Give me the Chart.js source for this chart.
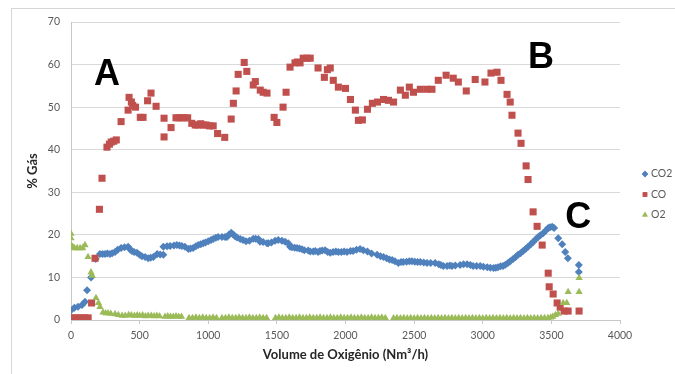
<!DOCTYPE html>
<html>
<head>
<meta charset="utf-8">
<script src="https://cdn.jsdelivr.net/npm/chart.js@4/dist/chart.umd.min.js"></script>
<style>
  html, body { margin: 0; padding: 0; background: #fff; overflow: hidden; }
  #wrap { position: relative; width: 675px; height: 374px; }
  #frame { position: absolute; left: 11px; top: 8px; width: 700px; height: 400px;
           border-left: 1px solid #d6d6d6; border-top: 1px solid #d6d6d6; }
  canvas { position: absolute; left: 0; top: 0; }
</style>
</head>
<body>
<div id="wrap">
  <div id="frame"></div>
  <canvas id="myChart" width="675" height="374"></canvas>
</div>
<script>
// data: [volume O2 (Nm3/h), % gas]
const co2 = [[0,2.3],[25,2.9],[51,3.1],[80,3.5],[102,4.3],[117,7],[146,10],[180,14.3],[211,15.5],[230,15.5],[248,15.5],[265,15.6],[284,15.5],[300,15.7],[321,16],[340,16.5],[365,16.9],[390,17.1],[416,17.2],[430,16.6],[443,16.2],[460,16],[481,15.8],[500,15.3],[517,15],[540,14.8],[562,14.5],[580,14.6],[600,14.8],[628,15.5],[650,15.4],[673,15.3],[673,17.2],[700,17.3],[722,17.4],[750,17.5],[771,17.6],[790,17.5],[808,17.4],[830,17.2],[855,16.7],[870,16.8],[890,16.9],[910,17.3],[927,17.6],[945,17.8],[963,18],[980,18.2],[1000,18.5],[1020,18.8],[1036,19],[1055,19.3],[1072,19.5],[1100,19.5],[1122,19.5],[1136,19.5],[1150,20],[1167,20.5],[1182,20.1],[1195,19.7],[1210,19.4],[1233,19],[1253,18.8],[1275,18.5],[1300,18.6],[1328,19.1],[1345,19.1],[1365,19],[1377,18.4],[1400,18.3],[1428,18],[1437,18],[1460,18.2],[1487,18.6],[1510,18.8],[1537,18.6],[1560,18.4],[1583,18],[1596,17.2],[1610,17.1],[1630,17],[1647,16.9],[1665,16.8],[1683,16.6],[1700,16.4],[1728,16.3],[1743,16.1],[1765,16.1],[1780,16.2],[1800,16],[1814,16.2],[1830,16.3],[1851,16.4],[1870,16],[1889,15.8],[1910,16],[1930,16.1],[1948,16],[1970,16],[1990,16.1],[2011,16],[2036,16.2],[2055,16.2],[2080,16.5],[2106,16.7],[2130,16.4],[2160,16.1],[2190,15.6],[2230,15.3],[2255,15],[2277,14.8],[2300,14.5],[2320,14.2],[2340,14.1],[2360,13.8],[2385,13.4],[2405,13.6],[2421,13.6],[2445,13.7],[2465,13.8],[2484,13.8],[2505,13.7],[2525,13.6],[2545,13.6],[2570,13.5],[2594,13.4],[2620,13.4],[2653,13.4],[2680,13.1],[2695,12.9],[2713,12.7],[2740,12.7],[2760,12.8],[2776,12.7],[2800,12.8],[2835,12.9],[2860,13.1],[2886,13.1],[2910,12.9],[2930,12.7],[2955,12.7],[2982,12.7],[3005,12.5],[3033,12.4],[3055,12.3],[3079,12.2],[3095,12.3],[3111,12.4],[3130,12.6],[3148,12.7],[3165,13],[3184,13.4],[3200,13.8],[3221,14.3],[3240,14.8],[3257,15.3],[3275,15.7],[3294,16.2],[3312,16.7],[3330,17.2],[3350,17.8],[3367,18.3],[3385,18.9],[3404,19.5],[3420,19.9],[3440,20.4],[3460,21],[3477,21.6],[3490,21.8],[3506,21.9],[3520,21.6],[3550,19.2],[3579,17.8],[3601,16],[3620,14.5],[3700,12.9],[3700,11.3]];

const co = [[0,0.5],[25,0.5],[50,0.5],[75,0.5],[100,0.5],[125,0.5],[150,4],[175,14.5],[207,26],[226,33.3],[262,40.6],[280,41.3],[293,41.8],[312,42],[330,42.3],[365,46.6],[416,49.3],[423,52.3],[440,51.2],[450,50.4],[470,50],[505,47.6],[525,47.6],[558,51.5],[583,53.3],[620,50.2],[678,47.4],[678,43],[729,45.2],[765,47.5],[785,47.5],[805,47.5],[825,47.5],[850,47.5],[880,46.2],[905,45.8],[925,45.8],[945,46.1],[965,45.8],[985,45.8],[1010,45.6],[1036,45.6],[1068,43.8],[1120,42.9],[1167,47.2],[1183,50.9],[1203,53.8],[1218,57.7],[1262,60.5],[1281,58.4],[1328,55.2],[1343,56],[1379,54],[1400,53.5],[1428,53.3],[1480,47.6],[1500,46.4],[1545,50],[1567,53.5],[1596,59.4],[1632,60.4],[1650,60.6],[1669,60.4],[1692,61.5],[1720,61.5],[1743,61.5],[1800,59.2],[1846,57],[1868,58.8],[1889,59.2],[1911,56.3],[1948,54.7],[2000,54.4],[2036,51.8],[2072,49.3],[2094,46.9],[2123,47],[2160,49.5],[2196,50.9],[2233,51.2],[2277,51.8],[2313,51.6],[2350,51.2],[2400,54],[2436,52.8],[2465,54.7],[2495,53.5],[2545,54.2],[2594,54.2],[2630,54.2],[2676,56.3],[2733,57.5],[2785,56.8],[2822,55.9],[2880,53.8],[2945,56.5],[3016,55.9],[3060,58],[3104,58.2],[3133,56.3],[3177,53],[3200,51.2],[3213,48.1],[3257,43.9],[3279,41.5],[3316,36.2],[3330,33],[3367,25.4],[3396,22],[3433,17.6],[3477,11],[3484,7.8],[3513,6.1],[3542,4],[3564,3],[3593,2.1],[3622,2.1],[3702,2.1]];

const o2 = [[0,20.3],[0,19.2],[0,17.6],[12,17.2],[25,16.9],[45,16.9],[66,16.9],[85,16.9],[102,17.6],[124,14.8],[146,11.2],[155,10.4],[182,5.2],[200,4],[211,3.1],[233,1.8],[252,1.6],[270,1.6],[290,1.5],[321,1.4],[345,1.2],[372,1],[395,1],[420,1.2],[440,1.1],[462,1],[482,1.1],[500,1],[522,1.1],[542,0.9],[562,1],[585,1],[605,0.9],[625,1],[645,0.9],[685,0.8],[705,0.9],[725,0.8],[745,0.8],[765,0.9],[785,0.8],[805,0.8],[860,0.5],[885,0.5],[910,0.6],[935,0.5],[960,0.6],[985,0.5],[1010,0.5],[1035,0.6],[1060,0.5],[1100,0.5],[1125,0.5],[1150,0.6],[1175,0.5],[1200,0.5],[1225,0.6],[1250,0.5],[1275,0.5],[1300,0.6],[1325,0.5],[1350,0.5],[1375,0.6],[1400,0.5],[1425,0.5],[1490,0.5],[1515,0.6],[1540,0.5],[1565,0.5],[1590,0.6],[1615,0.5],[1640,0.5],[1665,0.6],[1690,0.5],[1715,0.5],[1740,0.6],[1765,0.5],[1790,0.5],[1815,0.6],[1840,0.5],[1865,0.5],[1890,0.6],[1915,0.5],[1940,0.5],[1965,0.6],[1990,0.5],[2015,0.5],[2040,0.6],[2065,0.5],[2090,0.5],[2115,0.6],[2140,0.5],[2165,0.5],[2190,0.6],[2215,0.5],[2240,0.5],[2265,0.6],[2290,0.5],[2350,0.4],[2375,0.5],[2400,0.4],[2425,0.5],[2450,0.4],[2475,0.5],[2500,0.4],[2525,0.5],[2550,0.4],[2575,0.5],[2600,0.4],[2625,0.5],[2650,0.4],[2675,0.5],[2700,0.4],[2725,0.5],[2750,0.4],[2775,0.5],[2800,0.4],[2825,0.5],[2850,0.4],[2875,0.5],[2900,0.4],[2925,0.5],[2950,0.4],[2975,0.5],[3000,0.4],[3025,0.5],[3050,0.4],[3075,0.5],[3100,0.4],[3125,0.5],[3150,0.4],[3175,0.5],[3200,0.4],[3225,0.5],[3250,0.4],[3275,0.5],[3300,0.4],[3325,0.5],[3350,0.4],[3375,0.5],[3400,0.4],[3425,0.5],[3450,0.5],[3475,0.5],[3495,0.6],[3510,0.8],[3530,1.2],[3550,1.5],[3586,4],[3612,4],[3622,6.6],[3702,6.6],[3702,9.9]];

const seriesNames = ['CO2', 'CO', 'O2'];
const seriesColors = ['#4F81BD', '#C0504D', '#9BBB59'];
const xTicks = [0, 500, 1000, 1500, 2000, 2500, 3000, 3500, 4000];
const yTicks = [0, 10, 20, 30, 40, 50, 60, 70];
// letters written on the figure, anchored in data units
const marks = [{t: 'A', x: 262, y: 57.5}, {t: 'B', x: 3425, y: 61.6}, {t: 'C', x: 3695, y: 24}];

const toPts = arr => arr.map(p => ({x: p[0], y: p[1]}));
const styles = ['rectRot', 'rect', 'triangle'];
const radii = [4, 5, 4.2];

// letters A, B, C
const letterPlugin = {
  id: 'letters',
  afterDatasetsDraw(chart) {
    const {ctx, scales} = chart;
    ctx.save();
    ctx.font = 'bold 36px "Liberation Sans", Arial, sans-serif';
    ctx.fillStyle = '#000';
    ctx.textAlign = 'center';
    ctx.textBaseline = 'middle';
    marks.forEach(m => {
      ctx.fillText(m.t, scales.x.getPixelForValue(m.x), scales.y.getPixelForValue(m.y));
    });
    ctx.restore();
  }
};

// legend on the right, cut by the page edge like the picture
const legendPlugin = {
  id: 'sideLegend',
  afterDraw(chart) {
    const ctx = chart.ctx;
    const x0 = chart.chartArea.right + 25;
    const y0 = chart.scales.y.getPixelForValue(35) + 3;
    ctx.save();
    ctx.font = '10.5px Lato, sans-serif';
    ctx.textBaseline = 'middle';
    seriesNames.forEach((name, i) => {
      const y = y0 + i * 20.5;
      ctx.fillStyle = seriesColors[i];
      Chart.helpers.drawPoint(ctx, {pointStyle: styles[i], radius: 3.2, borderWidth: 0}, x0, y);
      ctx.fill();
      ctx.fillStyle = '#595959';
      ctx.fillText(name, x0 + 6, y);
    });
    ctx.restore();
  }
};

const datasets = [co2, co, o2].map((arr, i) => ({
  label: seriesNames[i],
  data: toPts(arr),
  showLine: false,
  pointStyle: styles[i],
  pointRadius: radii[i],
  pointHoverRadius: radii[i],
  backgroundColor: seriesColors[i],
  borderColor: seriesColors[i],
  borderWidth: 0,
  order: 3 - i
}));

const config = {
  type: 'scatter',
  data: {datasets: datasets},
  options: {
    responsive: false,
    animation: false,
    events: [],
    layout: {padding: {top: 22, right: 55, left: 0, bottom: 0}},
    plugins: {legend: {display: false}, tooltip: {enabled: false}},
    scales: {
      x: {
        type: 'linear', min: 0, max: 4000,
        afterBuildTicks(s) { s.ticks = xTicks.map(v => ({value: v})); },
        afterFit(s) { s.height = 54; },
        ticks: {color: '#595959', font: {family: 'Lato', size: 10.5}, padding: 5,
                callback: v => String(v)},
        grid: {drawOnChartArea: false, tickLength: 4, color: '#c8c8c8'},
        border: {color: '#c8c8c8'},
        title: {display: true, text: 'Volume de Oxigênio (Nm³/h)', color: '#262626',
                font: {family: 'Lato', size: 13, weight: 'bold'}, padding: {top: 0, bottom: 11}}
      },
      y: {
        min: 0, max: 70,
        afterBuildTicks(s) { s.ticks = yTicks.map(v => ({value: v})); },
        afterFit(s) { s.width = 71; },
        ticks: {color: '#595959', font: {family: 'Lato', size: 10.5}, padding: 11,
                callback: v => String(v)},
        grid: {color: '#d9d9d9', drawTicks: false},
        border: {color: '#c8c8c8'},
        title: {display: true, text: '% Gás', color: '#262626',
                font: {family: 'Lato', size: 13, weight: 'bold'}, padding: {top: 25, bottom: 0}}
      }
    }
  },
  plugins: [letterPlugin, legendPlugin]
};

const myChart = new Chart(document.getElementById('myChart'), config);
</script>
</body>
</html>
